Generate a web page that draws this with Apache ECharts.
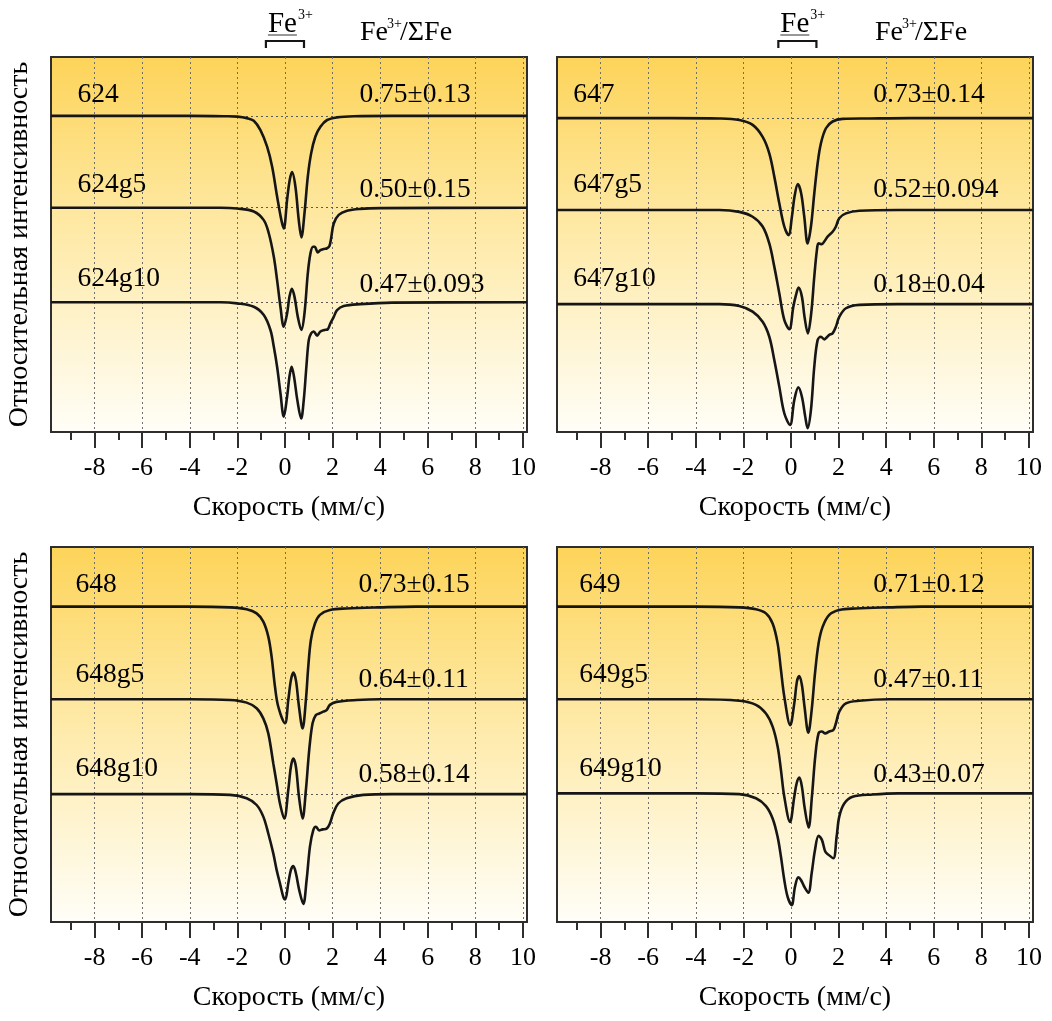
<!DOCTYPE html>
<html>
<head>
<meta charset="utf-8">
<script src="https://cdn.jsdelivr.net/npm/echarts@6/dist/echarts.min.js"></script>
<style>
  html, body { margin: 0; padding: 0; background: #ffffff; }
  #chart { width: 1052px; height: 1021px; }
</style>
</head>
<body>
<div id="chart"></div>
<script>
// Mössbauer spectra: velocity (mm/s) vs relative intensity (stacked, arbitrary units)

const FONT = '"Liberation Serif", "Times New Roman", serif';

// ---- data ----
const sampleNames = [
  ['624', '624g5', '624g10'],
  ['647', '647g5', '647g10'],
  ['648', '648g5', '648g10'],
  ['649', '649g5', '649g10']
];
const ratioTexts = [
  ['0.75±0.13', '0.50±0.15', '0.47±0.093'],
  ['0.73±0.14', '0.52±0.094', '0.18±0.04'],
  ['0.73±0.15', '0.64±0.11', '0.58±0.14'],
  ['0.71±0.12', '0.47±0.11', '0.43±0.07']
];
const baselineLevels = [
  [8.43, 5.98, 3.46],
  [8.37, 5.92, 3.41],
  [8.41, 5.94, 3.41],
  [8.41, 5.94, 3.43]
];
const majorTicks = [-8, -6, -4, -2, 0, 2, 4, 6, 8, 10];
const minorTicks = [-9, -7, -5, -3, -1, 1, 3, 5, 7, 9];

const s624 = [[-9.83,8.43],[-4,8.43],[-2.5,8.42],[-2.0,8.41],[-1.6,8.37],[-1.31,8.30],[-1.03,8.05],[-0.75,7.61],[-0.54,7.08],[-0.33,6.28],[-0.15,5.65],[-0.05,5.43],[0.09,6.19],[0.2,6.72],[0.3,6.93],[0.44,6.54],[0.58,5.65],[0.69,5.19],[0.82,5.83],[0.96,6.81],[1.1,7.43],[1.28,7.88],[1.49,8.14],[1.77,8.32],[2.19,8.39],[2.9,8.42],[4.5,8.43],[10.17,8.43]];
const s624g5 = [[-9.83,5.98],[-4,5.98],[-2.71,5.98],[-2.01,5.96],[-1.31,5.88],[-0.89,5.65],[-0.68,5.30],[-0.47,4.68],[-0.33,4.05],[-0.19,3.34],[-0.05,2.81],[0.09,3.16],[0.19,3.61],[0.29,3.82],[0.40,3.61],[0.54,3.07],[0.69,2.72],[0.82,3.16],[0.96,4.23],[1.07,4.76],[1.18,4.94],[1.25,4.94],[1.38,4.79],[1.49,4.85],[1.63,4.88],[1.77,4.90],[1.87,4.96],[1.94,5.17],[2.05,5.56],[2.26,5.79],[2.61,5.90],[3.17,5.95],[4.01,5.97],[10.17,5.98]];
const s624g10 = [[-9.83,3.46],[-4,3.46],[-2.71,3.46],[-2.01,3.43],[-1.31,3.34],[-0.89,3.12],[-0.61,2.72],[-0.47,2.28],[-0.33,1.74],[-0.19,1.04],[-0.05,0.41],[0.09,0.94],[0.19,1.48],[0.28,1.74],[0.38,1.48],[0.52,0.85],[0.68,0.36],[0.79,0.85],[0.90,1.74],[1.0,2.45],[1.10,2.63],[1.21,2.68],[1.35,2.57],[1.49,2.68],[1.66,2.72],[1.80,2.74],[1.91,2.90],[2.05,3.07],[2.19,3.25],[2.47,3.36],[3.17,3.41],[4.5,3.45],[10.17,3.46]];

const s647 = [[-9.83,8.37],[-5,8.37],[-3.01,8.36],[-2.17,8.32],[-1.61,8.19],[-1.19,7.87],[-0.91,7.43],[-0.70,6.81],[-0.49,6.10],[-0.28,5.48],[-0.10,5.25],[0.04,5.74],[0.15,6.28],[0.29,6.61],[0.43,6.36],[0.56,5.74],[0.70,5.03],[0.84,5.48],[0.98,6.36],[1.12,7.16],[1.26,7.70],[1.47,8.10],[1.75,8.28],[2.17,8.35],[3.29,8.36],[5,8.37],[10.17,8.37]];
const s647g5 = [[-9.83,5.92],[-4,5.92],[-3.01,5.92],[-2.17,5.87],[-1.61,5.74],[-1.19,5.48],[-0.91,5.03],[-0.70,4.41],[-0.49,3.70],[-0.28,2.99],[-0.07,2.74],[0.10,3.34],[0.21,3.65],[0.32,3.85],[0.46,3.61],[0.57,3.07],[0.71,2.63],[0.85,3.16],[0.98,4.14],[1.09,4.85],[1.16,5.03],[1.30,5.01],[1.40,5.08],[1.54,5.21],[1.75,5.34],[1.89,5.48],[2.03,5.70],[2.31,5.83],[2.87,5.90],[4.5,5.92],[10.17,5.92]];
const s647g10 = [[-9.83,3.41],[-4,3.41],[-3.01,3.41],[-2.17,3.36],[-1.61,3.21],[-1.19,2.94],[-0.91,2.54],[-0.70,1.92],[-0.49,1.21],[-0.28,0.50],[-0.04,0.19],[0.14,0.85],[0.31,1.19],[0.46,0.94],[0.60,0.41],[0.70,0.10],[0.84,0.59],[0.98,1.74],[1.12,2.45],[1.26,2.54],[1.40,2.47],[1.50,2.52],[1.61,2.59],[1.75,2.63],[1.89,2.81],[2.03,3.07],[2.31,3.30],[2.87,3.39],[4.5,3.41],[10.17,3.41]];

const s648 = [[-9.83,8.41],[-4,8.41],[-2.31,8.39],[-1.61,8.34],[-1.19,8.23],[-0.91,8.01],[-0.70,7.61],[-0.56,7.07],[-0.42,6.28],[-0.28,5.74],[0.0,5.30],[0.14,5.92],[0.25,6.45],[0.35,6.65],[0.46,6.45],[0.59,5.74],[0.74,5.16],[0.88,5.92],[0.98,6.81],[1.09,7.52],[1.26,7.96],[1.47,8.19],[1.89,8.32],[2.59,8.36],[3.99,8.39],[5.5,8.41],[10.17,8.41]];
const s648g5 = [[-9.83,5.94],[-4,5.94],[-2.31,5.92],[-1.61,5.85],[-1.19,5.70],[-0.91,5.43],[-0.70,5.03],[-0.49,4.23],[-0.35,3.70],[-0.21,3.16],[-0.03,2.76],[0.14,3.52],[0.25,4.14],[0.35,4.36],[0.46,4.14],[0.59,3.34],[0.74,2.76],[0.88,3.52],[1.02,4.59],[1.16,5.30],[1.30,5.52],[1.44,5.56],[1.61,5.61],[1.75,5.65],[1.89,5.79],[2.17,5.87],[3.01,5.92],[3.99,5.94],[10.17,5.94]];
const s648g10 = [[-9.83,3.41],[-4,3.41],[-2.31,3.39],[-1.61,3.30],[-1.19,3.12],[-0.91,2.81],[-0.70,2.36],[-0.49,1.83],[-0.35,1.39],[-0.21,1.03],[-0.07,0.67],[0.01,0.60],[0.14,1.03],[0.25,1.39],[0.35,1.49],[0.46,1.30],[0.60,0.85],[0.77,0.48],[0.91,1.12],[1.05,2.01],[1.19,2.45],[1.30,2.54],[1.44,2.44],[1.58,2.47],[1.75,2.49],[1.89,2.63],[2.03,2.90],[2.24,3.16],[2.59,3.30],[3.29,3.39],[4.5,3.41],[10.17,3.41]];

const s649 = [[-9.83,8.41],[-4,8.41],[-2.17,8.39],[-1.47,8.34],[-1.05,8.23],[-0.77,7.96],[-0.56,7.43],[-0.42,6.72],[-0.28,6.01],[-0.03,5.25],[0.14,5.83],[0.25,6.41],[0.35,6.56],[0.46,6.32],[0.57,5.74],[0.73,5.05],[0.87,5.65],[1.01,6.63],[1.16,7.43],[1.33,7.87],[1.61,8.19],[2.03,8.32],[2.73,8.36],[4.13,8.39],[5.5,8.41],[10.17,8.41]];
const s649g5 = [[-9.83,5.94],[-4,5.94],[-2.17,5.90],[-1.47,5.79],[-1.05,5.56],[-0.77,5.21],[-0.56,4.68],[-0.42,4.05],[-0.28,3.34],[-0.04,2.67],[0.14,3.34],[0.24,3.70],[0.35,3.85],[0.46,3.61],[0.57,3.07],[0.74,2.52],[0.88,3.34],[1.02,4.41],[1.16,5.03],[1.30,5.08],[1.44,5.03],[1.61,5.08],[1.78,5.12],[1.89,5.30],[2.03,5.61],[2.31,5.83],[2.87,5.90],[4.13,5.94],[10.17,5.94]];
const s649g10 = [[-9.83,3.43],[-4,3.43],[-2.17,3.41],[-1.47,3.30],[-1.05,3.09],[-0.77,2.76],[-0.56,2.27],[-0.42,1.74],[-0.28,1.12],[-0.14,0.67],[0.03,0.45],[0.17,0.94],[0.31,1.19],[0.42,1.12],[0.56,0.94],[0.73,0.78],[0.87,1.30],[1.01,1.92],[1.16,2.30],[1.30,2.19],[1.44,1.88],[1.58,1.79],[1.78,1.70],[1.92,2.28],[2.03,2.81],[2.24,3.16],[2.59,3.34],[3.43,3.40],[4.5,3.43],[10.17,3.43]];

const spectra = [
  [s624, s624g5, s624g10],
  [s647, s647g5, s647g10],
  [s648, s648g5, s648g10],
  [s649, s649g5, s649g10]
];

// Fe3+ doublet bracket span (mm/s) drawn over the upper panels
const fe3Bracket = [[-0.8, 0.8], [-0.53, 1.07]];

// ---- layout ----
const gridOrigins = [[51, 57], [557, 57], [51, 547], [557, 547]];
const GRID_W = 476, GRID_H = 375;
const X_MIN = -9.83, X_MAX = 10.17;
const nameAnchorX = [-8.72, -9.15, -8.8, -8.9];
const ratioAnchorX = [3.13, 3.46, 3.09, 3.46];
const nameRowY = [8.99, 6.58, 4.08];
const ratioRowY = [8.99, 6.45, 3.93];

const INK = '#161616';
const FRAME = '#2e2e2e';
const TEXT = '#000000';

const panelFill = {
  type: 'linear', x: 0, y: 0, x2: 0, y2: 1,
  colorStops: [
    { offset: 0, color: '#FDD459' },
    { offset: 0.45, color: '#FEE9A5' },
    { offset: 1, color: '#FFFEF8' }
  ]
};

const grids = [], xAxes = [], yAxes = [], series = [];

gridOrigins.forEach(([left, top], p) => {
  grids.push({
    left, top, width: GRID_W, height: GRID_H,
    show: true, backgroundColor: panelFill,
    borderColor: FRAME, borderWidth: 2
  });
  // major axis: even ticks, labels, dotted vertical grid
  xAxes.push({
    gridIndex: p, type: 'value', min: X_MIN, max: X_MAX, position: 'bottom',
    axisLine: { show: true, onZero: false, lineStyle: { color: FRAME, width: 2 } },
    axisTick: { show: true, inside: false, length: 16, customValues: majorTicks,
                lineStyle: { color: FRAME, width: 2 } },
    axisLabel: { show: true, customValues: majorTicks, margin: 23,
                 fontSize: 26, color: TEXT, fontFamily: FONT },
    splitLine: { show: true, lineStyle: { type: [2, 3], color: '#6f6f6f', width: 1 } },
    name: 'Скорость (мм/с)', nameLocation: 'middle', nameGap: 62,
    nameTextStyle: { fontSize: 28, color: TEXT, fontFamily: FONT }
  });
  // minor axis: odd ticks only
  xAxes.push({
    gridIndex: p, type: 'value', min: X_MIN, max: X_MAX, position: 'bottom',
    axisLine: { show: false },
    axisTick: { show: true, inside: false, length: 8, customValues: minorTicks,
                lineStyle: { color: FRAME, width: 2 } },
    axisLabel: { show: false }, splitLine: { show: false }
  });
  yAxes.push({
    gridIndex: p, type: 'value', min: 0, max: 10,
    axisLine: { show: false }, axisTick: { show: false },
    axisLabel: { show: false }, splitLine: { show: false },
    name: p % 2 === 0 ? 'Относительная интенсивность' : '',
    nameLocation: 'middle', nameRotate: 90, nameGap: 17,
    nameTextStyle: { fontSize: 28, color: TEXT, fontFamily: FONT }
  });

  spectra[p].forEach((curve, k) => {
    series.push({
      type: 'line', xAxisIndex: 2 * p, yAxisIndex: p,
      data: curve, symbol: 'none', smooth: 0.35,
      lineStyle: { color: INK, width: 2.6 }, z: 4,
      markLine: {
        silent: true, symbol: 'none', label: { show: false },
        lineStyle: { type: [2, 3], color: '#5a5a5a', width: 1 },
        data: [{ yAxis: baselineLevels[p][k] }], z: 3
      }
    });
  });

  const labelData = [];
  sampleNames[p].forEach((nm, k) => {
    labelData.push({ value: [nameAnchorX[p], nameRowY[k]], name: nm });
    labelData.push({ value: [ratioAnchorX[p], ratioRowY[k]], name: ratioTexts[p][k] });
  });
  series.push({
    type: 'scatter', xAxisIndex: 2 * p, yAxisIndex: p,
    data: labelData, symbolSize: 0, silent: true, z: 5,
    itemStyle: { color: TEXT },
    label: { show: true, position: 'right', distance: 0, formatter: '{b}',
             fontSize: 27.5, color: TEXT, fontFamily: FONT,
             textBorderWidth: 0, opacity: 1 }
  });
});

const chart = echarts.init(document.getElementById('chart'), null, { renderer: 'canvas' });
chart.setOption({
  animation: false,
  textStyle: { fontFamily: FONT },
  grid: grids, xAxis: xAxes, yAxis: yAxes, series
});

// header annotations above the two upper panels
const graphics = [];
[0, 1].forEach(p => {
  const xa = chart.convertToPixel({ xAxisIndex: 2 * p }, fe3Bracket[p][0]);
  const xb = chart.convertToPixel({ xAxisIndex: 2 * p }, fe3Bracket[p][1]);
  graphics.push({
    type: 'polyline', silent: true,
    shape: { points: [[xa, 48], [xa, 41], [xb, 41], [xb, 48]] },
    style: { stroke: INK, lineWidth: 2.2, fill: null }
  });
  const feX = xa + 2;
  graphics.push({ type: 'text', silent: true, x: feX, y: 24,
    style: { text: 'Fe', font: '29px ' + FONT, fill: TEXT, textVerticalAlign: 'middle' } });
  graphics.push({ type: 'line', silent: true,
    shape: { x1: feX, y1: 35, x2: feX + 29, y2: 35 },
    style: { stroke: '#333', lineWidth: 1 } });
  graphics.push({ type: 'text', silent: true, x: feX + 30, y: 15,
    style: { text: '3+', font: '14px ' + FONT, fill: TEXT, textVerticalAlign: 'middle' } });

  const hx = gridOrigins[p][0] + (p === 0 ? 309 : 318);
  graphics.push({ type: 'text', silent: true, x: hx, y: 33,
    style: { text: 'Fe', font: '28px ' + FONT, fill: TEXT, textVerticalAlign: 'middle' } });
  graphics.push({ type: 'text', silent: true, x: hx + 27, y: 24,
    style: { text: '3+', font: '14px ' + FONT, fill: TEXT, textVerticalAlign: 'middle' } });
  graphics.push({ type: 'text', silent: true, x: hx + 40, y: 33,
    style: { text: '/ΣFe', font: '28px ' + FONT, fill: TEXT, textVerticalAlign: 'middle' } });
});
chart.setOption({ graphic: graphics });
</script>
</body>
</html>
